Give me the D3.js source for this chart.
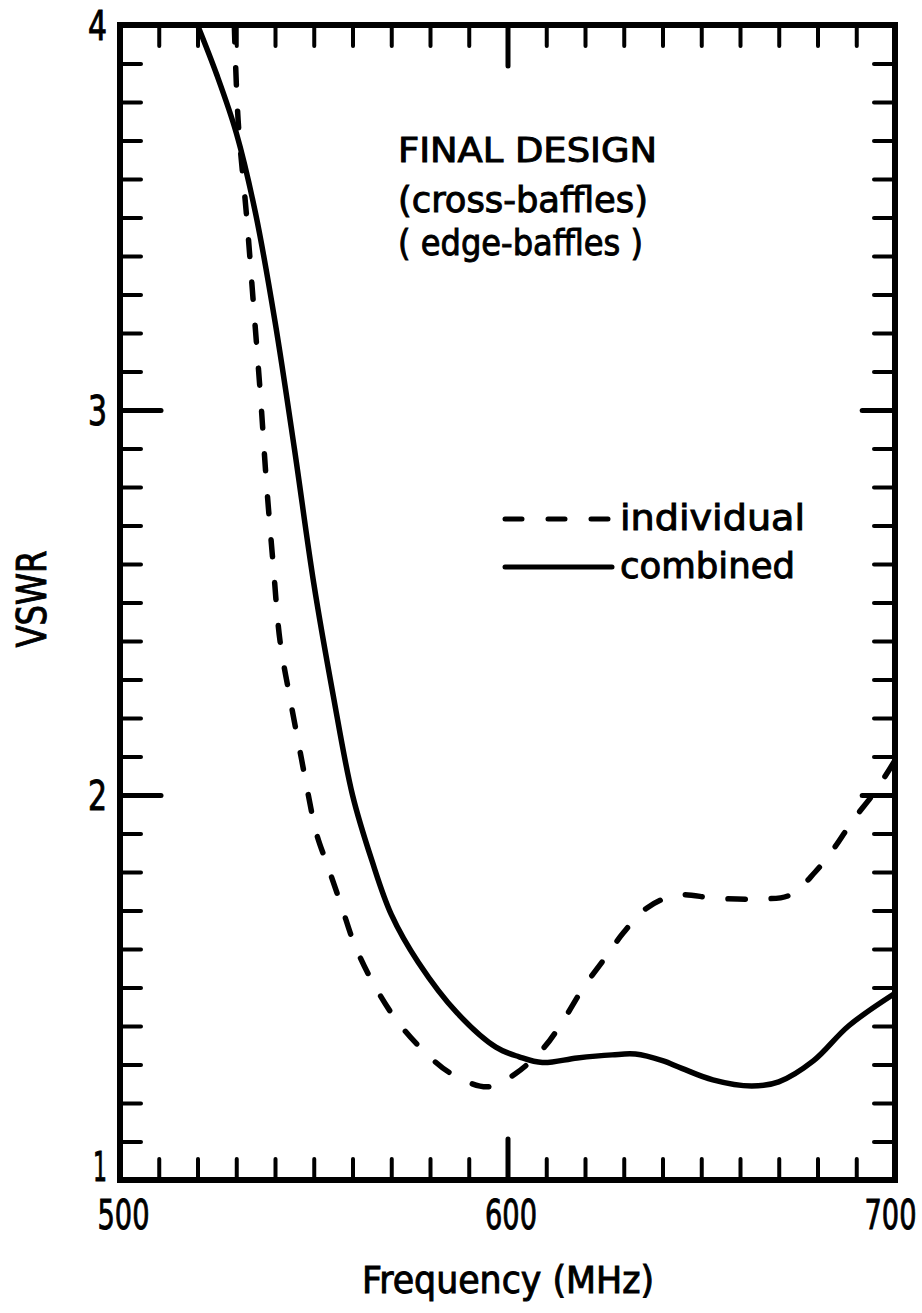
<!DOCTYPE html>
<html lang="en">
<head>
    <meta charset="UTF-8">
    <title>VSWR vs Frequency</title>
    <script src="https://d3js.org/d3.v7.min.js"></script>
    <style>
        body { margin: 0; background: #fff; }
        text { font-family: "DejaVu Sans", sans-serif; font-stretch: condensed; fill: #000; stroke: #000; stroke-width: 0.9px; }
    </style>
</head>
<body>
    <div class="canvas"></div>
    <script>
        // measured curves (MHz, VSWR)
        const freqIndividual = [529.5, 530.5, 532.7, 534.4, 536.3, 537.8, 539.6, 541.3, 543.9, 546.9, 548.6, 550.7, 553.8, 557.2, 560.6, 565.4, 571, 577.4, 585.2, 595, 602.3, 609.5, 614.8, 619.6, 625.2, 629.9, 635.9, 643.7, 653.5, 664.3, 672.9, 679.4, 684.5, 689.2, 694.8, 700];
        const vswrIndividual = [4.0, 3.75, 3.50, 3.28, 3.03, 2.81, 2.59, 2.40, 2.25, 2.09, 2.0, 1.90, 1.81, 1.71, 1.61, 1.51, 1.42, 1.345, 1.278, 1.242, 1.278, 1.345, 1.421, 1.50, 1.577, 1.642, 1.706, 1.74, 1.732, 1.73, 1.74, 1.80, 1.865, 1.935, 2.008, 2.09];

        const freqCombined = [520, 525, 530, 535, 540, 545, 550, 555, 560, 565, 570, 577, 587, 597, 603, 609, 618, 627, 633, 640, 645, 653, 663, 670, 679, 688, 700];
        const vswrCombined = [4.0, 3.87, 3.72, 3.51, 3.23, 2.90, 2.55, 2.26, 2.0, 1.83, 1.69, 1.565, 1.434, 1.345, 1.32, 1.305, 1.317, 1.325, 1.327, 1.31, 1.29, 1.26, 1.244, 1.255, 1.31, 1.40, 1.485];

        // axis ticks and labels
        const xMinor = [510, 520, 530, 540, 550, 560, 570, 580, 590, 610, 620, 630, 640, 650, 660, 670, 680, 690];
        const xMajor = [600];
        const xLabels = [500, 600, 700];
        const yMinor = [1.1, 1.2, 1.3, 1.4, 1.5, 1.6, 1.7, 1.8, 1.9, 2.1, 2.2, 2.3, 2.4, 2.5, 2.6, 2.7, 2.8, 2.9, 3.1, 3.2, 3.3, 3.4, 3.5, 3.6, 3.7, 3.8, 3.9];
        const yMajor = [2, 3];
        const yLabels = [1, 2, 3, 4];

        const titleLines = ['FINAL DESIGN', '(cross-baffles)', '( edge-baffles )'];
        const seriesNames = ['individual', 'combined'];

        const width = 922;
        const height = 1313;
        let [mt, mr, mb, ml] = [25, 27, 133, 120];

        const graphWidth = width - ml - mr;
        const graphHeight = height - mt - mb;

        const svg = d3.select('.canvas')
            .append('svg')
            .attr('width', width)
            .attr('height', height)
            .style('background', '#fff');

        const graph = svg.append('g')
            .attr('transform', `translate(${ml}, ${mt})`);

        const x = d3.scaleLinear().domain([500, 700]).range([0, graphWidth]);
        const y = d3.scaleLinear().domain([1, 4]).range([graphHeight, 0]);

        // inward ticks on all four sides
        const minorLen = 21, majorLen = 41;
        const tickAxes = [
            [d3.axisBottom(x), `translate(0, ${graphHeight})`, xMinor, xMajor, 1],
            [d3.axisTop(x), 'translate(0, 0)', xMinor, xMajor, 1],
            [d3.axisLeft(y), 'translate(0, 0)', yMinor, yMajor, 1],
            [d3.axisRight(y), `translate(${graphWidth}, 0)`, yMinor, yMajor, 0.8]
        ];
        tickAxes.forEach(([axis, tr, minor, major, k]) => {
            [[minor, minorLen, 4], [major, majorLen * k, 5]].forEach(([vals, len, sw]) => {
                const g = graph.append('g').attr('transform', tr)
                    .call(axis.tickValues(vals).tickSize(-len).tickFormat(''));
                g.select('.domain').remove();
                g.selectAll('line').attr('stroke', '#000').attr('stroke-width', sw).attr('stroke-linecap', 'round');
            });
        });

        // frame
        graph.append('rect')
            .attr('x', x(500))
            .attr('y', y(4))
            .attr('width', x(700) - x(500))
            .attr('height', y(1) - y(4))
            .attr('fill', 'none')
            .attr('stroke', '#000')
            .attr('stroke-width', 6);

        // tick labels (narrow digits)
        const yAxisG = graph.append('g')
            .call(d3.axisLeft(y).tickValues(yLabels).tickSize(0).tickPadding(13).tickFormat(d3.format('d')));
        yAxisG.select('.domain').remove();
        yAxisG.attr('font-family', null).attr('font-size', 41);
        yAxisG.selectAll('text').attr('fill', '#000')
            .attr('dy', d => d === 1 ? '0' : '0.35em')
            .attr('textLength', d => d === 1 ? 14 : 19)
            .attr('lengthAdjust', 'spacingAndGlyphs');

        const xAxisG = graph.append('g')
            .attr('transform', `translate(0, ${graphHeight})`)
            .call(d3.axisBottom(x).tickValues(xLabels).tickSize(0).tickPadding(20).tickFormat(d3.format('d')));
        xAxisG.select('.domain').remove();
        xAxisG.attr('font-family', null).attr('font-size', 41);
        xAxisG.selectAll('text').attr('fill', '#000')
            .attr('x', d => d === 700 ? -5 : 3)
            .attr('textLength', 52)
            .attr('lengthAdjust', 'spacingAndGlyphs');

        // axis titles
        svg.append('text')
            .attr('x', 508)
            .attr('y', 1293)
            .attr('text-anchor', 'middle')
            .attr('font-size', 37)
            .attr('textLength', 292)
            .attr('lengthAdjust', 'spacingAndGlyphs')
            .text('Frequency (MHz)');

        svg.append('text')
            .attr('transform', 'translate(46, 599) rotate(-90)')
            .attr('text-anchor', 'middle')
            .attr('font-size', 40)
            .attr('textLength', 97)
            .attr('lengthAdjust', 'spacingAndGlyphs')
            .text('VSWR');

        // curves
        const line = d3.line()
            .x(d => x(d[0]))
            .y(d => y(d[1]))
            .curve(d3.curveCatmullRom.alpha(0.5));

        const individual = d3.zip(freqIndividual, vswrIndividual);
        const combined = d3.zip(freqCombined, vswrCombined);

        graph.append('path')
            .datum(combined)
            .attr('d', line)
            .attr('fill', 'none')
            .attr('stroke', '#000')
            .attr('stroke-width', 5.5)
            .attr('stroke-linejoin', 'round');

        graph.append('path')
            .datum(individual)
            .attr('d', line)
            .attr('fill', 'none')
            .attr('stroke', '#000')
            .attr('stroke-width', 5.5)
            .attr('stroke-linecap', 'round')
            .attr('stroke-dasharray', '17 26');

        // title block
        const titleWidths = [259, 250, 245];
        const titleY = [162, 212, 255];
        svg.selectAll('text.title')
            .data(titleLines)
            .enter()
            .append('text')
            .attr('class', 'title')
            .attr('x', 398)
            .attr('y', (d, i) => titleY[i])
            .attr('font-size', (d, i) => i === 0 ? 34 : 36)
            .attr('textLength', (d, i) => titleWidths[i])
            .attr('lengthAdjust', 'spacingAndGlyphs')
            .text(d => d);

        // legend
        const legend = svg.append('g');
        const legendY = [519, 567];
        const legendWidths = [185, 175];
        seriesNames.forEach((name, i) => {
            legend.append('line')
                .attr('x1', 505).attr('x2', 612)
                .attr('y1', legendY[i]).attr('y2', legendY[i])
                .attr('stroke', '#000')
                .attr('stroke-width', 5)
                .attr('stroke-linecap', 'round')
                .attr('stroke-dasharray', i === 0 ? '17 26' : null);
            legend.append('text')
                .attr('x', 620)
                .attr('y', legendY[i] + 11)
                .attr('font-size', 36)
                .attr('textLength', legendWidths[i])
                .attr('lengthAdjust', 'spacingAndGlyphs')
                .text(name);
        });
    </script>
</body>
</html>
